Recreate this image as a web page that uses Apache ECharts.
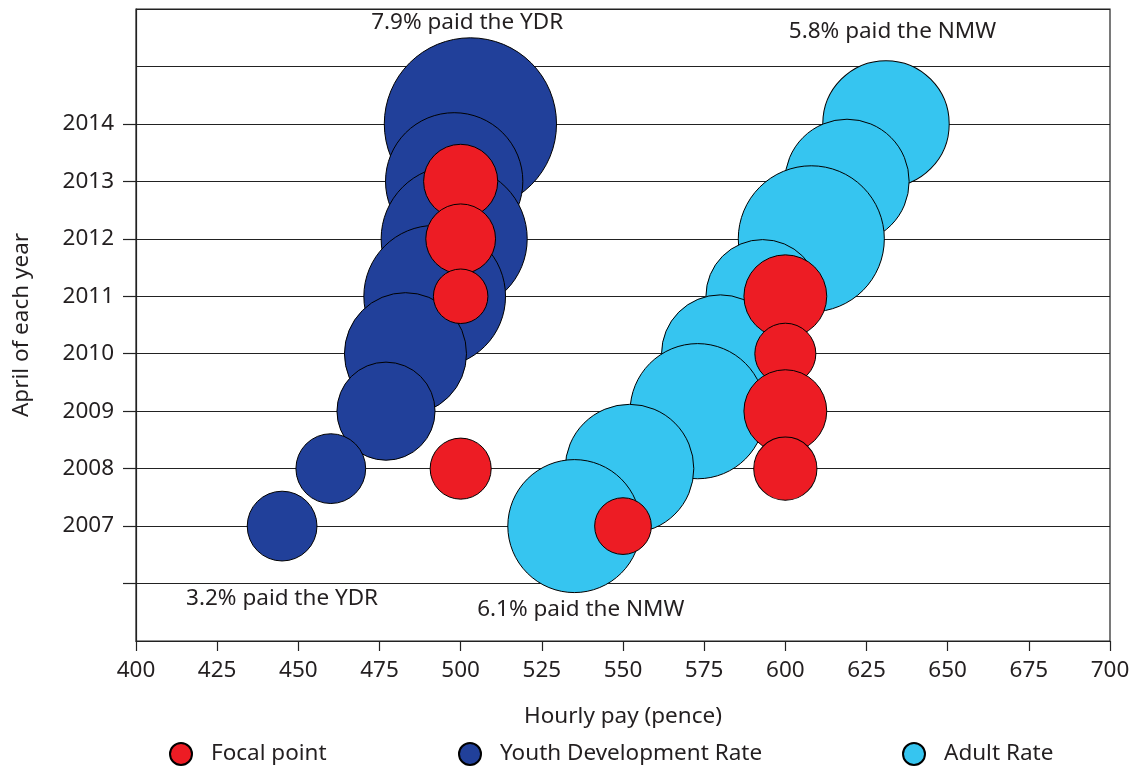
<!DOCTYPE html>
<html>
<head>
<meta charset="utf-8">
<script src="https://cdn.jsdelivr.net/npm/echarts@6/dist/echarts.min.js"></script>
<style>
  html, body { margin: 0; padding: 0; background: #fff; }
  #chart { width: 1140px; height: 767px; }
</style>
</head>
<body>
<div id="chart"></div>
<script>
// April of each year
const years = [2007, 2008, 2009, 2010, 2011, 2012, 2013, 2014];

// Youth Development Rate: hourly pay (pence) and % paid the rate
const ydrPay = [445, 460, 477, 483, 492, 498, 498, 503];
const ydrShare = [3.2, 3.2, 4.5, 5.6, 6.5, 6.7, 6.3, 7.9];

// Adult Rate (NMW)
const adultPay = [535, 552, 573, 580, 593, 608, 619, 631];
const adultShare = [6.1, 5.9, 6.2, 5.4, 5.2, 6.7, 5.7, 5.8];

// Focal points (round-number pay)
const focalYears = [2007, 2008, 2008, 2009, 2010, 2011, 2011, 2012, 2013];
const focalPay = [550, 500, 600, 600, 600, 500, 600, 500, 500];
const focalShare = [2.6, 2.8, 2.9, 3.8, 2.8, 2.5, 3.8, 3.2, 3.4];

// annotations
const noteText = ['7.9% paid the YDR', '5.8% paid the NMW', '3.2% paid the YDR', '6.1% paid the NMW'];
const notePay = [502, 633, 445, 537];
const noteYear = [2015.77, 2015.6, 2005.73, 2005.54];

const yearLabels = [2007, 2008, 2009, 2010, 2011, 2012, 2013, 2014];
const yearTicks = [2006, 2007, 2008, 2009, 2010, 2011, 2012, 2013, 2014];

const FONT = 'Noto Sans';
const FS = 22.5;
const TEXT = '#231f20';
const PX_PER_PCT = 21.8;   // bubble diameter per percentage point

// later years drawn first so earlier ones sit on top
function points(pay, yrs, share) {
    return pay.map((p, i) => [p, yrs[i], share[i]])
        .sort((a, b) => b[1] - a[1]);
}

function bubble(name, color, data, z) {
    return {
        name: name,
        type: 'scatter',
        data: data,
        z: z,
        symbolSize: v => v[2] * PX_PER_PCT,
        itemStyle: { color: color, borderColor: '#000', borderWidth: 1, opacity: 1 },
        emphasis: { disabled: true },
        animation: false
    };
}

function legendAt(left, name) {
    return {
        left: left,
        top: 742,
        data: [name],
        icon: 'circle',
        itemWidth: 22,
        itemHeight: 22,
        padding: 0,
        selectedMode: false,
        textStyle: { fontFamily: FONT, fontSize: FS, color: TEXT, padding: [0, 0, 0, 14] }
    };
}

const chart = echarts.init(document.getElementById('chart'), null, { renderer: 'canvas' });

chart.setOption({
    backgroundColor: '#fff',
    animation: false,
    grid: {
        left: 136, right: 30, top: 9, bottom: 126,
        show: true, borderColor: '#222', borderWidth: 1.2, backgroundColor: 'transparent'
    },
    legend: [
        legendAt(169, 'Focal point'),
        legendAt(458, 'Youth Development Rate'),
        legendAt(902, 'Adult Rate')
    ],
    xAxis: {
        type: 'value',
        min: 400, max: 700, interval: 25,
        name: 'Hourly pay (pence)',
        nameLocation: 'middle',
        nameGap: 64,
        nameTextStyle: { fontFamily: FONT, fontSize: FS, color: TEXT },
        axisLine: { show: true, lineStyle: { color: '#222', width: 1.2 } },
        axisTick: { show: true, length: 10, lineStyle: { color: '#222', width: 1.2 } },
        axisLabel: { margin: 18, fontFamily: FONT, fontSize: FS, color: TEXT },
        splitLine: { show: false }
    },
    yAxis: [
        {
            type: 'value',
            min: 2005, max: 2016, interval: 1,
            name: 'April of each year',
            nameLocation: 'middle',
            nameGap: 103,
            nameTextStyle: { fontFamily: FONT, fontSize: FS, color: TEXT },
            axisLine: { show: true, lineStyle: { color: '#222', width: 1.2 } },
            axisTick: { show: true, length: 13, customValues: yearTicks, lineStyle: { color: '#222', width: 1.2 } },
            axisLabel: {
                margin: 22, customValues: yearLabels, formatter: v => String(v),
                fontFamily: FONT, fontSize: FS, color: TEXT
            },
            splitLine: { show: false }
        },
        {
            type: 'value',
            position: 'left',
            min: 2005, max: 2016, interval: 1,
            axisLine: { show: false },
            axisTick: { show: false },
            axisLabel: { show: false },
            splitLine: { show: true, lineStyle: { color: '#222', width: 1.2 } }
        }
    ],
    series: [
        bubble('Youth Development Rate', '#21409a', points(ydrPay, years, ydrShare), 2),
        bubble('Adult Rate', '#36c5f0', points(adultPay, years, adultShare), 2),
        bubble('Focal point', '#ed1c24', points(focalPay, focalYears, focalShare), 3),
        {
            name: 'notes',
            type: 'scatter',
            z: 4,
            silent: true,
            symbolSize: 1,
            itemStyle: { color: 'rgba(0,0,0,0)' },
            data: noteText.map((t, i) => ({ name: t, value: [notePay[i], noteYear[i]] })),
            label: {
                show: true,
                position: 'inside',
                formatter: p => p.name,
                fontFamily: FONT, fontSize: FS, color: TEXT,
                textBorderWidth: 0, opacity: 1
            }
        }
    ]
});
</script>
</body>
</html>
